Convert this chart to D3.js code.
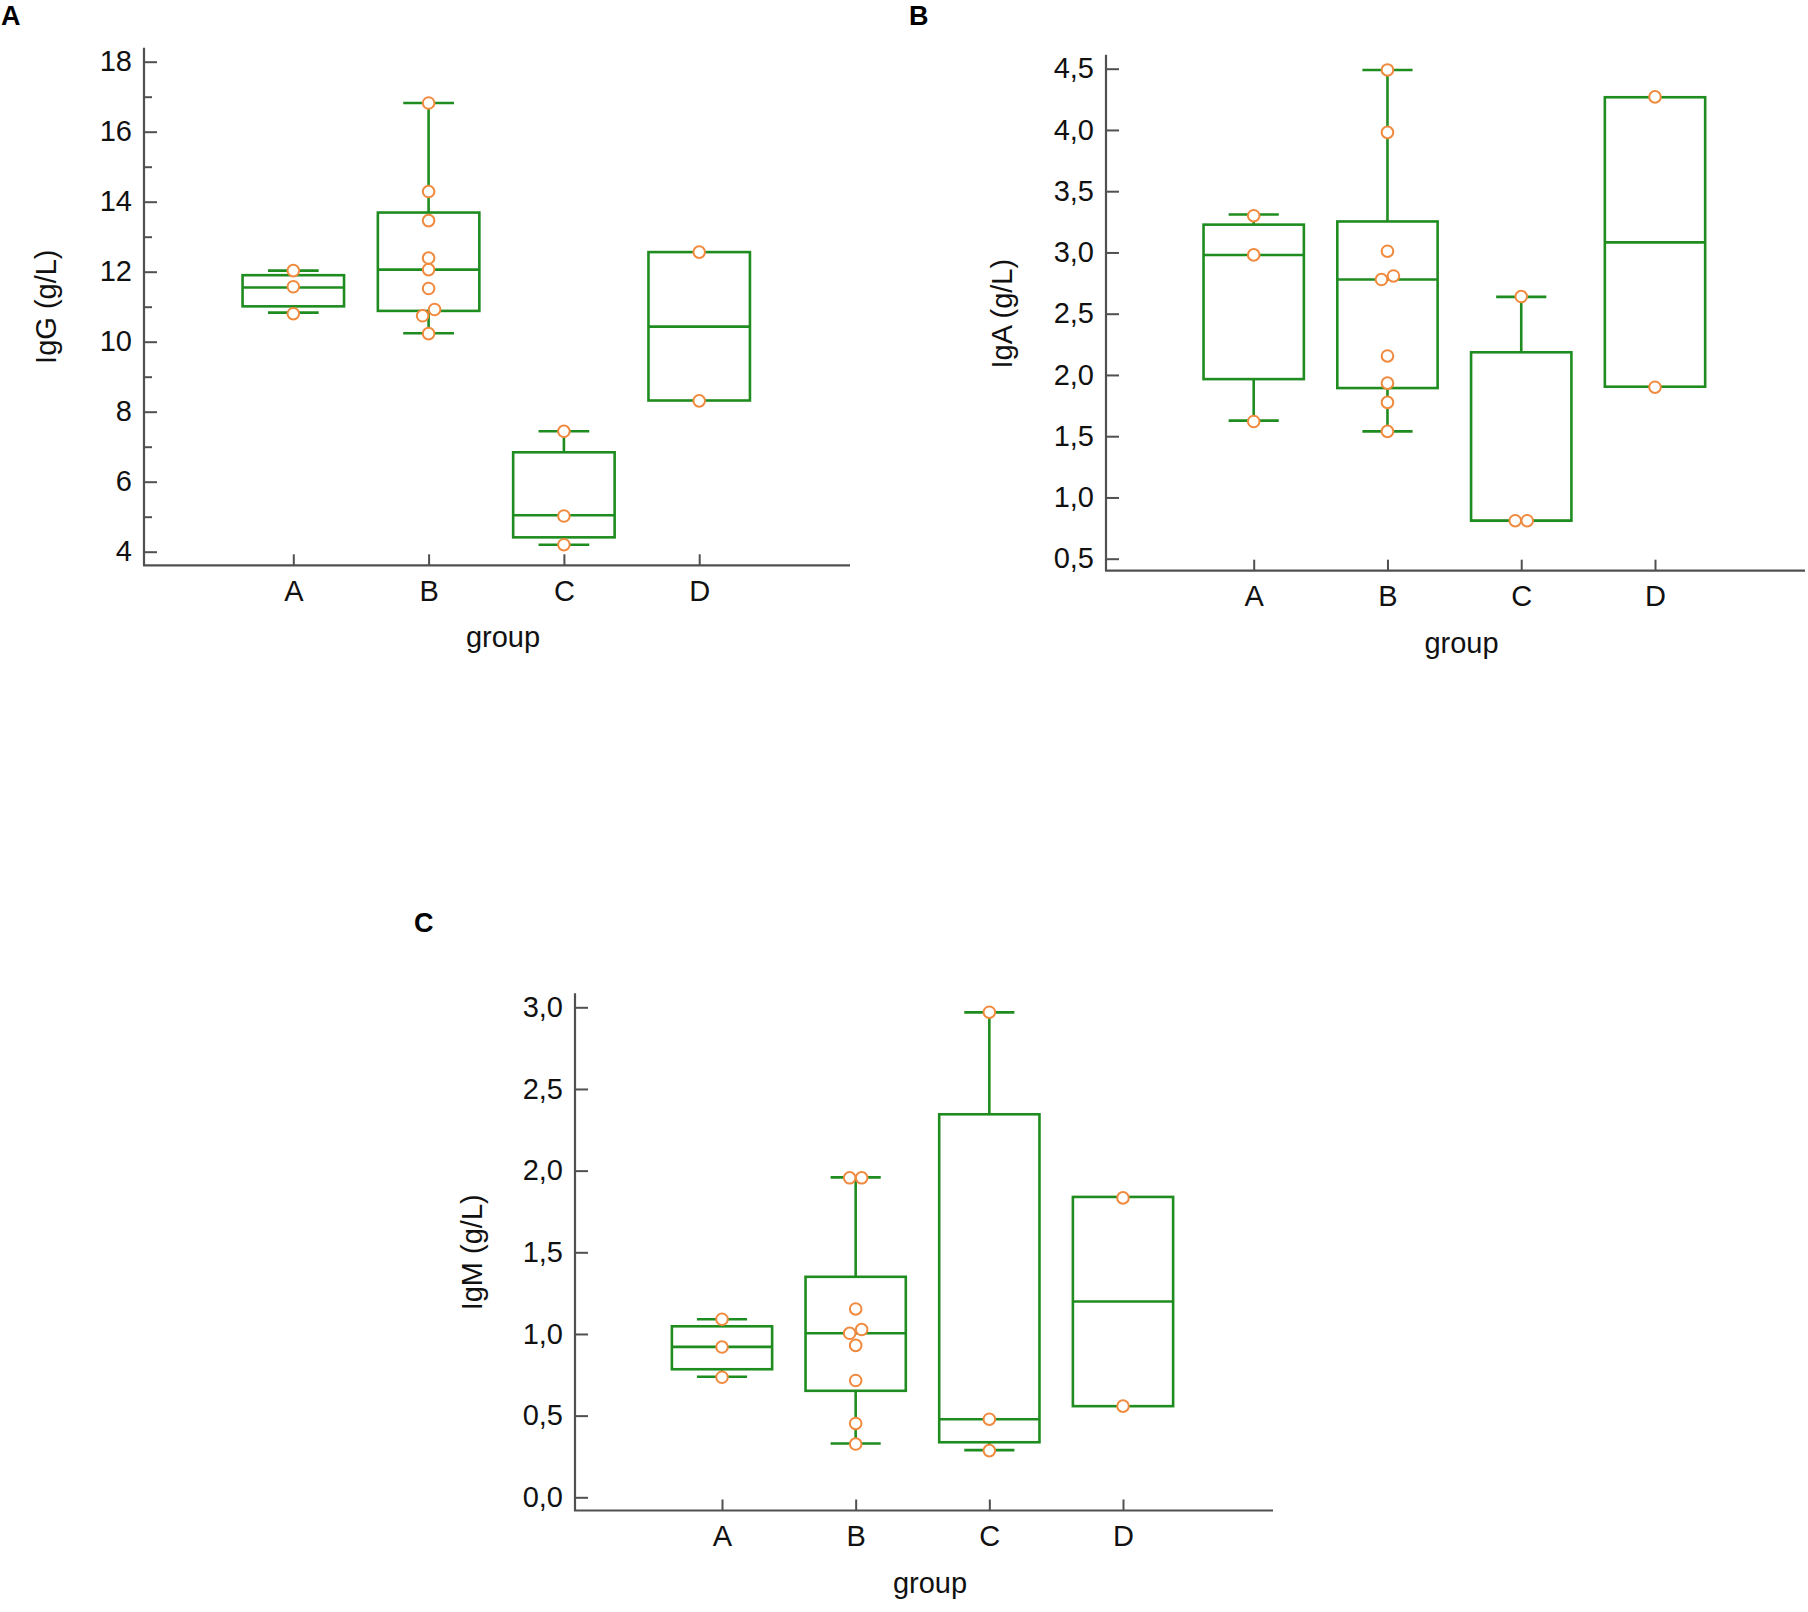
<!DOCTYPE html>
<html>
<head>
<meta charset="utf-8">
<script src="https://cdn.jsdelivr.net/npm/d3@7"></script>
<style>
  body { margin: 0; background: #fff; }
  text { font-family: "Liberation Sans", Arial, sans-serif; }
</style>
</head>
<body>
<div class="canvas"></div>
<script>
// Data
const categories = ['A', 'B', 'C', 'D'];

const iggTicks = [4, 6, 8, 10, 12, 14, 16, 18];
const iggMinorTicks = [5, 7, 9, 11, 13, 15, 17];
const igaTicks = [0.5, 1.0, 1.5, 2.0, 2.5, 3.0, 3.5, 4.0, 4.5];
const igmTicks = [0.0, 0.5, 1.0, 1.5, 2.0, 2.5, 3.0];

// box stats per group: [whisker low, Q1, median, Q3, whisker high]
const iggBoxes = [
  [10.83, 11.01, 11.55, 11.90, 12.03],
  [10.24, 10.88, 12.06, 13.69, 16.82],
  [4.20, 4.41, 5.04, 6.84, 7.44],
  [null, 8.32, 10.43, 12.56, null]
];
const iggPoints = [
  [12.03, 11.57, 10.80],
  [16.82, 14.29, 13.46, 12.39, 12.06, 11.52, 10.92, 10.74, 10.23],
  [7.44, 5.02, 4.20],
  [12.56, 8.31]
];

const igaBoxes = [
  [1.627, 1.966, 2.979, 3.227, 3.31],
  [1.539, 1.893, 2.779, 3.253, 4.49],
  [null, 0.81, 0.81, 2.185, 2.637],
  [null, 1.904, 3.082, 4.267, null]
];
const igaPoints = [
  [3.30, 2.98, 1.62],
  [4.49, 3.98, 3.01, 2.808, 2.779, 2.155, 1.933, 1.776, 1.539],
  [2.64, 0.81, 0.81],
  [4.27, 1.90]
];

const igmBoxes = [
  [0.738, 0.784, 0.921, 1.047, 1.09],
  [0.329, 0.652, 1.004, 1.350, 1.959],
  [0.289, 0.337, 0.478, 2.345, 2.969],
  [null, 0.558, 1.199, 1.839, null]
];
const igmPoints = [
  [1.09, 0.92, 0.735],
  [1.956, 1.956, 1.153, 1.027, 1.004, 0.930, 0.715, 0.452, 0.326],
  [2.97, 0.478, 0.286],
  [1.833, 0.558]
];

// Layout
const width = 1808, height = 1612;
const green = '#1f8c1f';
const orange = '#f08a3e';
const axisColor = '#505050';
const fontSize = 29;

const locale = d3.formatLocale({ decimal: ',', thousands: '.', grouping: [3], currency: ['', ''] });

const panels = [
  {
    letter: 'A', letterX: 1, letterY: 25,
    axisX: 144, topTick: 61.7, bottomTick: 551.7, xAxisY: 565.3, xEnd: 850,
    firstCat: 293.3, lastCat: 699.2,
    ticks: iggTicks, minor: iggMinorTicks, format: d3.format('d'),
    title: 'IgG (g/L)', titleX: 56,
    boxes: iggBoxes, points: iggPoints
  },
  {
    letter: 'B', letterX: 909, letterY: 25,
    axisX: 1106, topTick: 68.7, bottomTick: 558.7, xAxisY: 570.7, xEnd: 1805,
    firstCat: 1253.7, lastCat: 1655,
    ticks: igaTicks, minor: [], format: locale.format('.1f'),
    title: 'IgA (g/L)', titleX: 1012,
    boxes: igaBoxes, points: igaPoints
  },
  {
    letter: 'C', letterX: 414, letterY: 932,
    axisX: 575, topTick: 1007.3, bottomTick: 1497.3, xAxisY: 1510.5, xEnd: 1273,
    firstCat: 722, lastCat: 1123,
    ticks: igmTicks, minor: [], format: locale.format('.1f'),
    title: 'IgM (g/L)', titleX: 482,
    boxes: igmBoxes, points: igmPoints
  }
];

const svg = d3.select('.canvas')
  .append('svg')
  .attr('width', width)
  .attr('height', height);

svg.append('rect').attr('width', width).attr('height', height).attr('fill', '#fff');

const drawPanel = (p) => {
  const g = svg.append('g');

  const y = d3.scaleLinear()
    .domain([p.ticks[0], p.ticks[p.ticks.length - 1]])
    .range([p.bottomTick, p.topTick]);

  const x = d3.scalePoint()
    .domain(categories)
    .range([p.firstCat, p.lastCat]);

  const boxW = x.step() * 0.75;
  const capW = boxW / 2;

  // panel letter
  g.append('text')
    .attr('x', p.letterX)
    .attr('y', p.letterY)
    .attr('font-size', 27)
    .attr('font-weight', 'bold')
    .text(p.letter);

  // y axis (ticks point inward)
  const yAxis = g.append('g')
    .attr('transform', `translate(${p.axisX},0)`)
    .call(d3.axisLeft(y)
      .tickValues(p.ticks)
      .tickFormat(p.format)
      .tickSizeInner(-13)
      .tickSizeOuter(0)
      .tickPadding(12));
  yAxis.select('.domain').remove();
  yAxis.selectAll('line').attr('stroke', axisColor).attr('stroke-width', 2);
  yAxis.selectAll('text')
    .attr('font-size', fontSize)
    .attr('font-family', '"Liberation Sans", Arial, sans-serif')
    .attr('fill', '#111');

  if (p.minor.length) {
    const minorAxis = g.append('g')
      .attr('transform', `translate(${p.axisX},0)`)
      .call(d3.axisLeft(y)
        .tickValues(p.minor)
        .tickFormat('')
        .tickSizeInner(-8)
        .tickSizeOuter(0));
    minorAxis.select('.domain').remove();
    minorAxis.selectAll('line').attr('stroke', axisColor).attr('stroke-width', 2);
  }

  // x axis (category ticks point up)
  const xAxis = g.append('g')
    .attr('transform', `translate(0,${p.xAxisY})`)
    .call(d3.axisBottom(x)
      .tickSizeInner(-11)
      .tickSizeOuter(0)
      .tickPadding(15));
  xAxis.select('.domain').remove();
  xAxis.selectAll('line').attr('stroke', axisColor).attr('stroke-width', 2);
  xAxis.selectAll('text')
    .attr('font-size', fontSize)
    .attr('font-family', '"Liberation Sans", Arial, sans-serif')
    .attr('fill', '#111');

  // axis lines
  g.append('line')
    .attr('x1', p.axisX).attr('x2', p.axisX)
    .attr('y1', p.topTick - 14).attr('y2', p.xAxisY)
    .attr('stroke', axisColor).attr('stroke-width', 2.2);
  g.append('line')
    .attr('x1', p.axisX - 1).attr('x2', p.xEnd)
    .attr('y1', p.xAxisY).attr('y2', p.xAxisY)
    .attr('stroke', axisColor).attr('stroke-width', 2.2);

  // axis titles
  g.append('text')
    .attr('x', (p.axisX + p.xEnd) / 2 + 6)
    .attr('y', p.xAxisY + 82)
    .attr('text-anchor', 'middle')
    .attr('font-size', fontSize)
    .attr('fill', '#111')
    .text('group');

  g.append('text')
    .attr('transform', `translate(${p.titleX},${(p.topTick + p.bottomTick) / 2}) rotate(-90)`)
    .attr('text-anchor', 'middle')
    .attr('font-size', fontSize)
    .attr('fill', '#111')
    .text(p.title);

  // boxes
  const boxData = p.boxes.map((b, i) => ({ cat: categories[i], lo: b[0], q1: b[1], med: b[2], q3: b[3], hi: b[4] }));

  const box = g.selectAll('g.box')
    .data(boxData)
    .enter()
    .append('g')
    .attr('class', 'box')
    .attr('stroke', green)
    .attr('stroke-width', 2.6)
    .attr('fill', 'none');

  // whiskers
  box.filter(d => d.hi !== null).each(function(d) {
    const s = d3.select(this);
    s.append('line')
      .attr('x1', x(d.cat)).attr('x2', x(d.cat))
      .attr('y1', y(d.q3)).attr('y2', y(d.hi));
    s.append('line')
      .attr('x1', x(d.cat) - capW / 2).attr('x2', x(d.cat) + capW / 2)
      .attr('y1', y(d.hi)).attr('y2', y(d.hi));
  });
  box.filter(d => d.lo !== null).each(function(d) {
    const s = d3.select(this);
    s.append('line')
      .attr('x1', x(d.cat)).attr('x2', x(d.cat))
      .attr('y1', y(d.q1)).attr('y2', y(d.lo));
    s.append('line')
      .attr('x1', x(d.cat) - capW / 2).attr('x2', x(d.cat) + capW / 2)
      .attr('y1', y(d.lo)).attr('y2', y(d.lo));
  });

  box.append('rect')
    .attr('x', d => x(d.cat) - boxW / 2)
    .attr('width', boxW)
    .attr('y', d => y(d.q3))
    .attr('height', d => y(d.q1) - y(d.q3))
    .attr('fill', '#fff');

  box.append('line')
    .attr('x1', d => x(d.cat) - boxW / 2)
    .attr('x2', d => x(d.cat) + boxW / 2)
    .attr('y1', d => y(d.med))
    .attr('y2', d => y(d.med));

  // points, nudged sideways when two sit on top of each other
  const pts = [];
  p.points.forEach((vals, i) => {
    const sorted = vals.slice().sort((a, b) => a - b);
    let k = 0;
    while (k < sorted.length) {
      if (k + 1 < sorted.length && Math.abs(y(sorted[k]) - y(sorted[k + 1])) < 8) {
        pts.push({ cat: categories[i], v: sorted[k], dx: -6 });
        pts.push({ cat: categories[i], v: sorted[k + 1], dx: 6 });
        k += 2;
      } else {
        pts.push({ cat: categories[i], v: sorted[k], dx: 0 });
        k += 1;
      }
    }
  });

  g.selectAll('circle.pt')
    .data(pts)
    .enter()
    .append('circle')
    .attr('class', 'pt')
    .attr('cx', d => x(d.cat) + d.dx)
    .attr('cy', d => y(d.v))
    .attr('r', 5.8)
    .attr('fill', '#fff')
    .attr('stroke', orange)
    .attr('stroke-width', 2);
};

panels.forEach(drawPanel);
</script>
</body>
</html>
